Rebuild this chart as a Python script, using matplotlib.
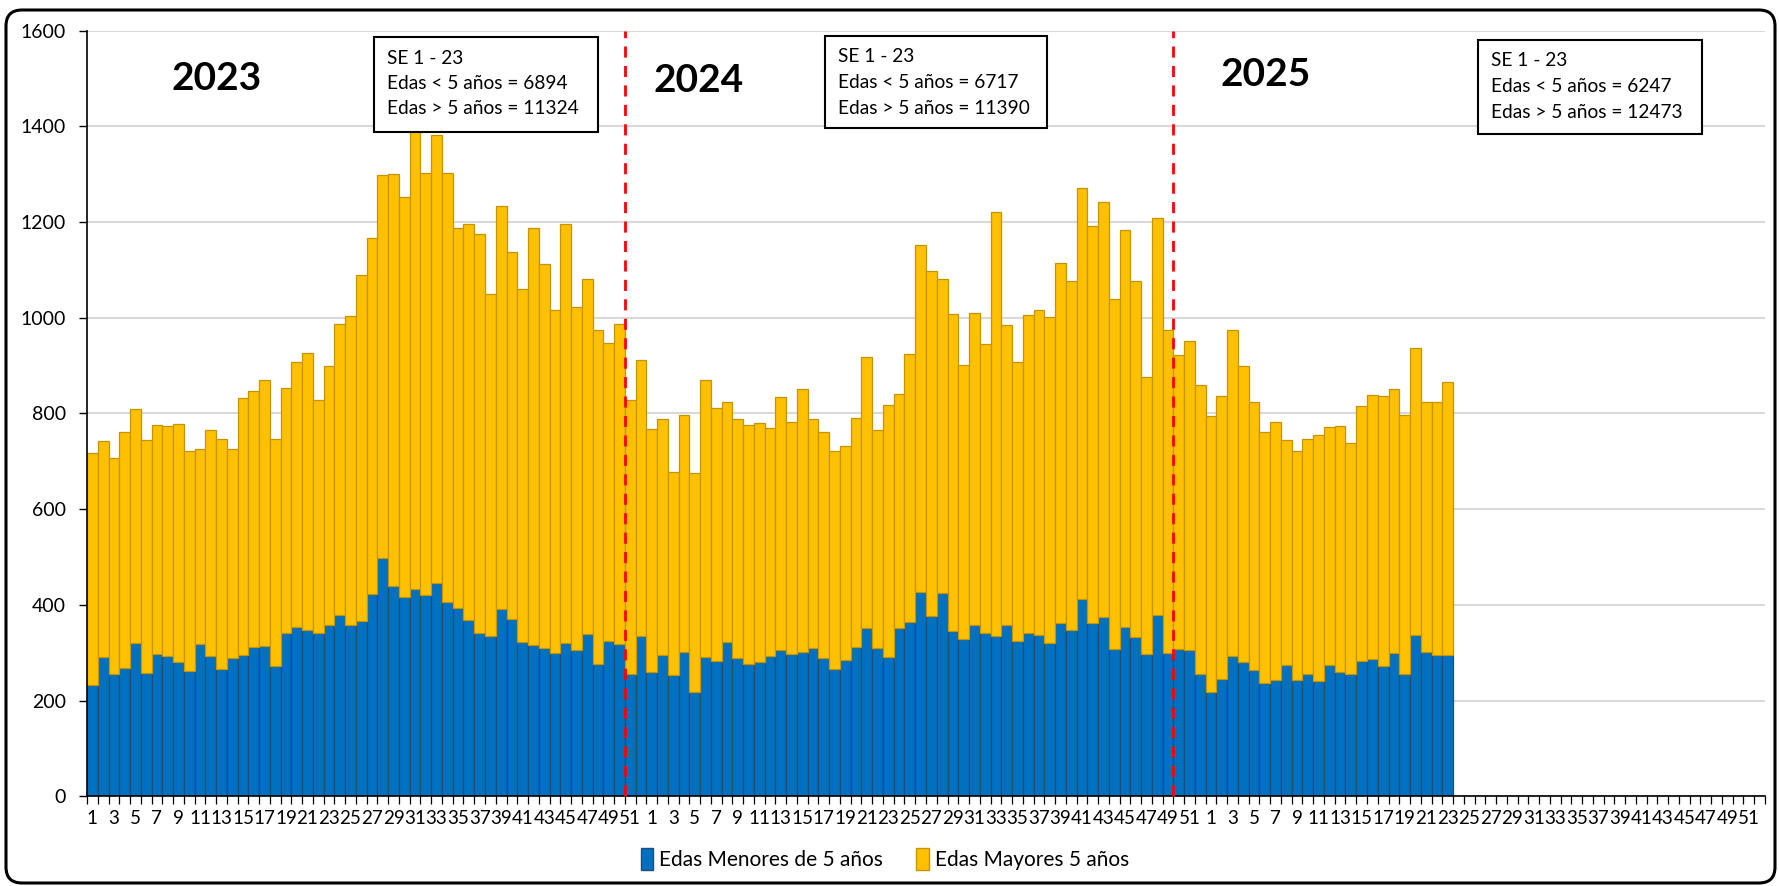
import numpy as np
import matplotlib
matplotlib.use("Agg")
import matplotlib.pyplot as plt
from matplotlib.patches import Rectangle, FancyBboxPatch, Patch
from matplotlib.transforms import IdentityTransform

W, H = 1779, 886
plt.rcParams['font.family'] = ['Lato', 'DejaVu Sans']

# ---------------- data ----------------
years = ['2023', '2024', '2025']
weeks_per_year = 52

menores_2023 = [233, 292, 256, 269, 321, 258, 298, 293, 281, 261, 318, 293, 266, 290, 295, 311,
                314, 272, 342, 354, 348, 341, 358, 379, 358, 366, 423, 499, 439, 416, 433, 421,
                446, 407, 393, 369, 341, 336, 391, 370, 322, 316, 310, 299, 320, 306, 339, 277,
                324, 319, 256, 334]
mayores_2023 = [484, 450, 450, 492, 488, 486, 478, 480, 498, 461, 408, 472, 480, 436, 537, 537,
                555, 474, 512, 553, 578, 487, 541, 609, 646, 723, 743, 799, 861, 837, 962, 881,
                937, 896, 795, 827, 834, 714, 842, 767, 738, 871, 802, 718, 877, 716, 742, 698,
                623, 669, 572, 578]

menores_2024 = [260, 295, 253, 302, 218, 292, 282, 322, 290, 276, 280, 294, 306, 297, 302, 309,
                290, 266, 285, 311, 352, 309, 292, 352, 364, 428, 376, 424, 346, 329, 358, 342,
                336, 358, 325, 342, 338, 321, 362, 348, 412, 362, 374, 308, 353, 333, 298, 379,
                299, 307, 305, 256]
mayores_2024 = [508, 493, 425, 495, 458, 577, 529, 501, 499, 500, 501, 475, 528, 485, 550, 480,
                471, 456, 448, 479, 566, 456, 525, 489, 560, 724, 722, 657, 661, 572, 651, 604,
                886, 626, 582, 663, 678, 681, 753, 728, 859, 829, 869, 731, 830, 743, 578, 829,
                676, 615, 646, 603]

menores_2025 = [219, 245, 294, 280, 264, 237, 244, 274, 243, 256, 240, 274, 259, 256, 282, 286,
                273, 299, 256, 338, 302, 295, 295]
mayores_2025 = [576, 591, 681, 619, 561, 524, 538, 470, 478, 491, 516, 497, 514, 483, 533, 553,
                564, 553, 540, 598, 521, 528, 570]

periodo = 'SE 1 - 23'
total_menores = [6894, 6717, 6247]
total_mayores = [11324, 11390, 12473]

serie_menores = 'Edas Menores de 5 años'
serie_mayores = 'Edas Mayores 5 años'

# ---------------- build ----------------
menores = np.array(menores_2023 + menores_2024 + menores_2025, dtype=float)
mayores = np.array(mayores_2023 + mayores_2024 + mayores_2025, dtype=float)
n_slots = weeks_per_year * len(years)
x = np.arange(len(menores))

BLUE, BLUE_E = '#0070C0', '#1F4E79'
YEL, YEL_E = '#FFC000', '#C49500'

fig = plt.figure(figsize=(W / 100, H / 100), dpi=100)
ax = fig.add_axes([87 / W, 1 - 796.3 / H, 1678 / W, 765.6 / H])

ax.bar(x, menores, width=1.0, color=BLUE, edgecolor=BLUE_E, linewidth=0.9, zorder=2)
ax.bar(x, mayores, width=1.0, bottom=menores, color=YEL, edgecolor=YEL_E, linewidth=0.9, zorder=2)

ax.set_xlim(-0.5, n_slots - 0.5)
ax.set_ylim(0, 1600)
ax.set_yticks(np.arange(0, 1601, 200))
ax.yaxis.grid(True, color='#D9D9D9', linewidth=1.5, zorder=0)
ax.set_axisbelow(True)
for s in ['top', 'right']:
    ax.spines[s].set_visible(False)
for s in ['left', 'bottom']:
    ax.spines[s].set_color('black')
    ax.spines[s].set_linewidth(1.2)
ax.tick_params(axis='y', length=6, width=1.0, pad=9, labelsize=14, colors='black')

# category labels: odd week numbers
week_labels = []
for _ in years:
    for w in range(1, weeks_per_year + 1):
        week_labels.append(str(w) if w % 2 == 1 else '')
ax.set_xticks(np.arange(n_slots))
ax.set_xticklabels(week_labels, fontsize=13.5)
ax.tick_params(axis='x', which='major', length=0, pad=10)
ax.set_xticks(np.arange(-0.5, n_slots, 1.0), minor=True)
ax.tick_params(axis='x', which='minor', length=6, width=0.9, color='black')

# dashed separators (as drawn in reference)
for xv in [49.5, 100.5]:
    ax.plot([xv, xv], [0, 1600], color='#FF0000', linestyle=(0, (4, 3)), linewidth=2.0,
            zorder=4, clip_on=False)

# year labels
year_pos = [(217, 78), (699, 81), (1266, 75)]
for yl, (px, py) in zip(years, year_pos):
    fig.text(px / W, 1 - py / H, yl, fontsize=28, fontweight='bold', ha='center', va='center',
             zorder=10)

# summary boxes
boxes = [(374, 37, 224, 95), (825, 36, 222, 92), (1478, 40, 224, 94)]
for (bx, by, bw, bh), tm, tM in zip(boxes, total_menores, total_mayores):
    fig.add_artist(Rectangle((bx / W, 1 - (by + bh) / H), bw / W, bh / H,
                             transform=fig.transFigure, facecolor='white',
                             edgecolor='black', linewidth=1.5, zorder=8))
    lines = [periodo, f'Edas < 5 años = {tm}', f'Edas > 5 años = {tM}']
    for k, ln in enumerate(lines):
        fig.text((bx + 13) / W, 1 - (by + 21 + 25.5 * k) / H, ln, fontsize=13.8,
                 ha='left', va='center', zorder=9)

# legend
handles = [Patch(facecolor=BLUE, edgecolor=BLUE_E, label=serie_menores),
           Patch(facecolor=YEL, edgecolor=YEL_E, label=serie_mayores)]
fig.legend(handles=handles, loc='center', bbox_to_anchor=(885 / W, 1 - 859 / H), ncol=2,
           frameon=False, fontsize=15, handlelength=0.6, handleheight=1.2,
           handletextpad=0.3, columnspacing=1.6)

# outer rounded frame
fig.add_artist(FancyBboxPatch((6, H - 883), 1769, 873,
                              boxstyle='round,pad=0,rounding_size=16',
                              transform=IdentityTransform(), facecolor='none',
                              edgecolor='black', linewidth=2.2, zorder=20))

fig.savefig('out.png', dpi=100)
